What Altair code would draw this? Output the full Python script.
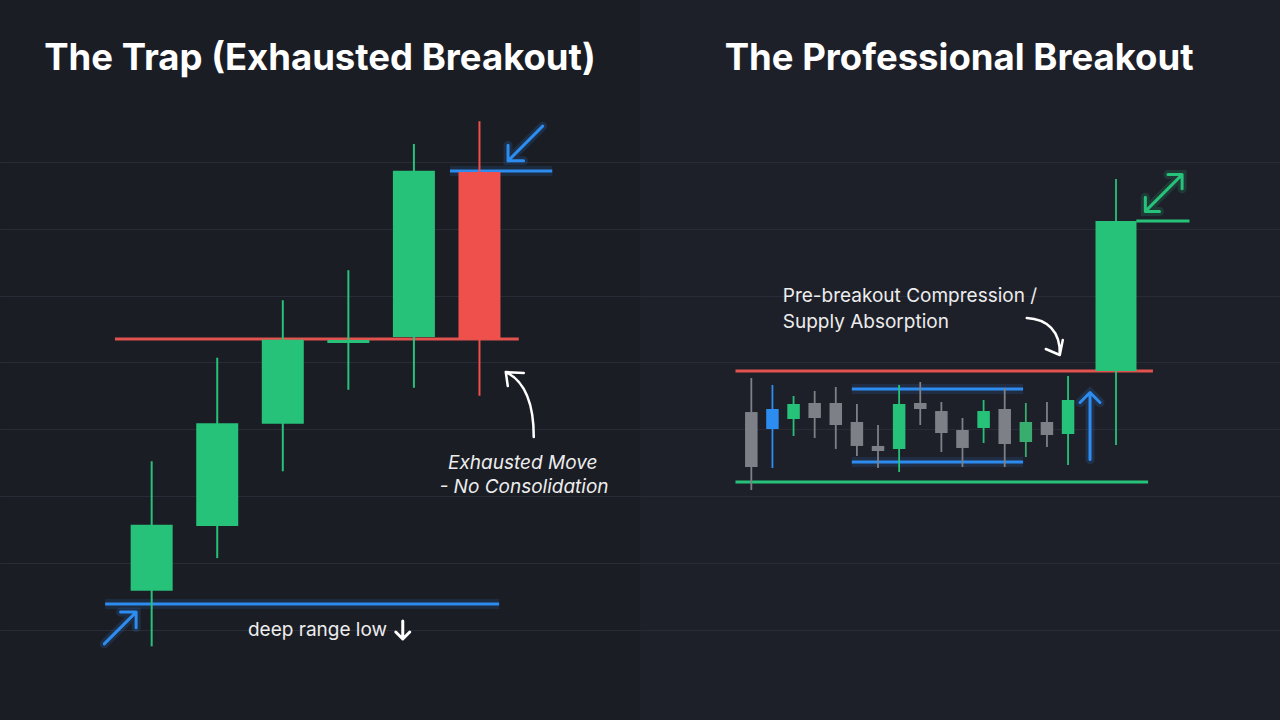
import math
import altair as alt
import pandas as pd

# ---------------- data (price units, candle index on x) ----------------
# Left panel: The Trap (exhausted breakout)
trap_idx   = [1, 2, 3, 4, 5, 6]
trap_open  = [15.8, 25.5, 40.8, 52.9, 53.8, 78.5]
trap_close = [25.7, 40.9, 53.4, 53.35, 78.7, 53.5]
trap_high  = [35.2, 50.7, 59.3, 63.8, 82.7, 86.1]
trap_low   = [7.5, 20.7, 33.7, 45.9, 46.2, 45.0]
trap_kind  = ["up", "up", "up", "up", "up", "down"]

trap_level_from  = [0.44, 0.29, 5.55]
trap_level_to    = [6.60, 6.30, 7.11]
trap_level_price = [53.5, 13.83, 78.65]
trap_level_kind  = ["red", "blue", "blue"]

trap_title   = "The Trap (Exhausted Breakout)"
trap_title_x = -0.64
trap_title_y = 93.7

trap_note_text = ["Exhausted Move", "- No Consolidation"]
trap_note_x    = [6.66, 6.68]
trap_note_y    = [34.0, 30.45]

trap_label_text = ["deep range low"]
trap_label_x    = [3.53]
trap_label_y    = [9.04]

trap_arrow_kind = ["blue_upright", "blue_downleft", "white_curve_up", "white_down"]
trap_arrow_x    = [0.52, 6.70, 6.63, 4.83]
trap_arrow_y    = [10.24, 82.77, 43.62, 9.94]

# Right panel: The Professional Breakout
pro_idx   = [1, 2, 3, 4, 5, 6, 7, 8, 9, 10, 11, 12, 13, 14, 15, 16, 18.27]
pro_open  = [42.57, 43.02, 41.53, 43.92, 43.92, 41.08, 37.49, 37.04, 43.92, 42.72,
             39.88, 40.18, 43.02, 38.08, 41.08, 39.28, 48.71]
pro_close = [34.34, 40.03, 43.77, 41.68, 40.63, 37.49, 36.74, 43.77, 43.02, 39.43,
             37.19, 42.72, 37.78, 41.08, 39.13, 44.37, 71.17]
pro_high  = [47.66, 46.62, 44.97, 45.72, 46.32, 43.77, 40.63, 46.62, 47.07, 44.07,
             41.68, 44.37, 46.17, 43.92, 44.07, 47.96, 77.46]
pro_low   = [30.90, 34.19, 38.98, 38.68, 37.04, 35.99, 34.19, 33.59, 40.63, 36.59,
             34.34, 37.93, 34.34, 35.84, 37.34, 34.64, 37.63]
pro_kind  = ["flat", "blue", "up", "flat", "flat", "flat", "flat", "up", "flat", "flat",
             "flat", "up", "flat", "up_muted", "flat", "up", "up"]

pro_level_from  = [0.25, 0.25, 5.76, 5.76, 19.23]
pro_level_to    = [20.02, 19.79, 13.87, 13.87, 21.75]
pro_level_price = [48.71, 32.10, 46.02, 35.09, 71.17]
pro_level_kind  = ["red", "green", "blue", "blue", "green"]

pro_title   = "The Professional Breakout"
pro_title_x = -0.26
pro_title_y = 93.7

pro_note_text = ["Pre-breakout Compression /", "Supply Absorption"]
pro_note_x    = [2.49, 2.49]
pro_note_y    = [59.09, 55.10]

pro_arrow_kind = ["white_curve_down", "blue_up", "green_double"]
pro_arrow_x    = [14.85, 17.04, 20.53]
pro_arrow_y    = [53.95, 40.48, 75.36]

grid_prices = [10, 20, 30, 40, 50, 60, 70, 80]

# ---------------- styles ----------------
BG = "#1b1d25"
BG_RIGHT = "#1e2029"
GREEN = "#27c27a"
GREEN_MUTED = "#38ad6e"
RED = "#ef504c"
RED_LINE = "#e2524f"
BLUE = "#2d8cf0"
GRAY = "#7e8088"
WHITE = "#ededed"
FONT = "Inter"

PANEL_W = 640
PANEL_H = 720
PX_PER_UNIT = 6.68
ZERO_PX = 696.4
Y_DOMAIN = [(ZERO_PX - 720) / PX_PER_UNIT, ZERO_PX / PX_PER_UNIT]


def rot(pts, deg):
    a = math.radians(deg)
    c, s = math.cos(a), math.sin(a)
    return [(x * c - y * s, x * s + y * c) for x, y in pts]


def fmt(pts):
    return " ".join(f"{x:.2f},{y:.2f}" for x, y in pts)


def arrow_path(length, head, deg, double=False):
    h = length / 2
    shaft = rot([(0, h), (0, -h)], deg)
    tip = rot([(-head, -h + head), (0, -h), (head, -h + head)], deg)
    p = f"M{fmt(shaft[:1])} L{fmt(shaft[1:])} M{fmt(tip[:1])} L{fmt(tip[1:])}"
    if double:
        tail = rot([(-head, h - head), (0, h), (head, h - head)], deg)
        p += f" M{fmt(tail[:1])} L{fmt(tail[1:])}"
    return p


ARROW_SHAPES = {
    "blue_upright": arrow_path(45, 11, 45),
    "blue_downleft": arrow_path(49, 11, 225),
    "white_curve_up": "M13,32 C13,5 8,-22 -15,-33 M-13,-19 L-15,-33 L3,-32",
    "white_down": arrow_path(18, 7, 180),
    "white_curve_down": "M-17,-18 C3,-17 17,-5 16,19 M2,13 L16,19 L19,4",
    "blue_up": arrow_path(67, 10, 0),
    "green_double": arrow_path(52, 10, 45, double=True),
}
ARROW_COLORS = {
    "blue_upright": BLUE, "blue_downleft": BLUE, "white_curve_up": "#ffffff",
    "white_down": "#ffffff", "white_curve_down": "#ffffff", "blue_up": BLUE,
    "green_double": GREEN,
}
ARROW_WIDTH = {
    "blue_upright": 3, "blue_downleft": 3, "white_curve_up": 2.5,
    "white_down": 3, "white_curve_down": 2.5, "blue_up": 3, "green_double": 3,
}
ARROW_GLOW = {k: (0.16 if not k.startswith("white") else 0.0) for k in ARROW_SHAPES}
CANDLE_COLORS = {"up": GREEN, "down": RED, "flat": GRAY, "blue": BLUE, "up_muted": GREEN_MUTED}
LEVEL_COLORS = {"red": RED_LINE, "blue": BLUE, "green": GREEN}
LEVEL_GLOW = {"red": 0.0, "blue": 0.13, "green": 0.0}

Y_AXIS = alt.Axis(values=grid_prices, grid=True, labels=False, ticks=False, domain=False,
                  title=None, gridColor="#292c36", gridWidth=1, minExtent=0, maxExtent=0)
Y_SCALE = alt.Scale(domain=Y_DOMAIN, nice=False, zero=False)
RAW_COLOR = alt.Color("col:N", scale=None, legend=None)


def build_panel(cdf, ldf, tdf, notes, note_style, note_align, labels, adf,
                x_domain, body_px, big_body_px, wick_w, fill):
    XS = alt.Scale(domain=x_domain, nice=False, zero=False)

    def X(field):
        return alt.X(f"{field}:Q", scale=XS, axis=None)

    def Y(field):
        return alt.Y(f"{field}:Q", scale=Y_SCALE, axis=Y_AXIS)

    glow = alt.Chart(ldf).transform_filter("datum.glow > 0").mark_rule(
        strokeWidth=10).encode(
        x=X("x1"), x2="x2", y=Y("price"), color=RAW_COLOR,
        opacity=alt.Opacity("glow:Q", scale=None))
    levels = alt.Chart(ldf).mark_rule(strokeWidth=3).encode(
        x=X("x1"), x2="x2", y=Y("price"), color=RAW_COLOR)

    wicks = alt.Chart(cdf).mark_rule(strokeWidth=wick_w).encode(
        x=X("x"), y=Y("low"), y2="high", color=RAW_COLOR)
    bodies = alt.Chart(cdf).transform_filter("datum.x < 17").mark_bar(
        size=body_px, orient="vertical").encode(
        x=X("x"), y=Y("open"), y2="close", color=RAW_COLOR)
    layers = [glow, levels, wicks, bodies]
    if big_body_px:
        big = alt.Chart(cdf).transform_filter("datum.x >= 17").mark_bar(
            size=big_body_px, orient="vertical").encode(
            x=X("x"), y=Y("open"), y2="close", color=RAW_COLOR)
        layers.append(big)

    shape = alt.Shape("path:N", scale=None, legend=None)
    arrow_glow = alt.Chart(adf).transform_filter("datum.glow > 0").mark_point(
        filled=False, size=4, strokeWidth=9, strokeCap="round").encode(
        x=X("x"), y=Y("y"), shape=shape, color=RAW_COLOR,
        opacity=alt.Opacity("glow:Q", scale=None))
    arrows = alt.Chart(adf).mark_point(filled=False, size=4, opacity=1, strokeCap="round",
                                       strokeJoin="round").encode(
        x=X("x"), y=Y("y"), shape=shape, color=RAW_COLOR,
        strokeWidth=alt.StrokeWidth("sw:Q", scale=None, legend=None))
    layers += [arrow_glow, arrows]

    layers.append(alt.Chart(tdf).mark_text(
        font=FONT, fontSize=36.5, fontWeight="bold", align="left", baseline="alphabetic",
        color="#ffffff").encode(x=X("x"), y=Y("y"), text="text:N"))
    layers.append(alt.Chart(notes).mark_text(
        font=FONT, fontSize=19, fontStyle=note_style, align=note_align,
        baseline="alphabetic", color=WHITE).encode(x=X("x"), y=Y("y"), text="text:N"))
    if labels is not None:
        layers.append(alt.Chart(labels).mark_text(
            font=FONT, fontSize=19, align="center", baseline="alphabetic",
            color=WHITE).encode(x=X("x"), y=Y("y"), text="text:N"))

    return alt.layer(*layers).properties(
        width=PANEL_W, height=PANEL_H,
        view=alt.ViewBackground(fill=fill, strokeWidth=0),
    )


def candles(idx, o, c, h, l, kind):
    df = pd.DataFrame({"x": idx, "open": o, "close": c, "high": h, "low": l, "kind": kind})
    df["col"] = df["kind"].map(CANDLE_COLORS)
    return df


def levels(x1, x2, price, kind):
    df = pd.DataFrame({"x1": x1, "x2": x2, "price": price, "kind": kind})
    df["col"] = df["kind"].map(LEVEL_COLORS)
    df["glow"] = df["kind"].map(LEVEL_GLOW)
    return df


def arrows(kind, x, y):
    df = pd.DataFrame({"kind": kind, "x": x, "y": y})
    df["path"] = df["kind"].map(ARROW_SHAPES)
    df["col"] = df["kind"].map(ARROW_COLORS)
    df["sw"] = df["kind"].map(ARROW_WIDTH)
    df["glow"] = df["kind"].map(ARROW_GLOW)
    return df


left = build_panel(
    candles(trap_idx, trap_open, trap_close, trap_high, trap_low, trap_kind),
    levels(trap_level_from, trap_level_to, trap_level_price, trap_level_kind),
    pd.DataFrame({"text": [trap_title], "x": [trap_title_x], "y": [trap_title_y]}),
    pd.DataFrame({"text": trap_note_text, "x": trap_note_x, "y": trap_note_y}),
    "italic", "center",
    pd.DataFrame({"text": trap_label_text, "x": trap_label_x, "y": trap_label_y}),
    arrows(trap_arrow_kind, trap_arrow_x, trap_arrow_y),
    [-1.2372, 8.3724], 42, None, 2, BG)

right = build_panel(
    candles(pro_idx, pro_open, pro_close, pro_high, pro_low, pro_kind),
    levels(pro_level_from, pro_level_to, pro_level_price, pro_level_kind),
    pd.DataFrame({"text": [pro_title], "x": [pro_title_x], "y": [pro_title_y]}),
    pd.DataFrame({"text": pro_note_text, "x": pro_note_x, "y": pro_note_y}),
    "normal", "left", None,
    arrows(pro_arrow_kind, pro_arrow_x, pro_arrow_y),
    [-4.035, 25.80], 12.5, 41, 1.8, BG_RIGHT)

chart = alt.hconcat(left, right, spacing=0).properties(
    background=BG,
    padding={"top": 0, "left": 0, "right": 0, "bottom": 0},
).configure_view(strokeWidth=0)

chart.save("out.html", embed_options={"renderer": "svg", "actions": False})
